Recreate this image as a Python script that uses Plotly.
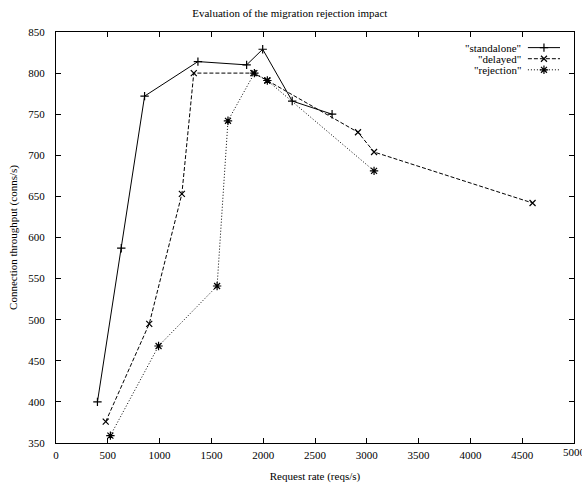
import plotly.graph_objects as go

# Measured throughput per request rate for each migration policy
standalone_rate = [400, 630, 855, 1370, 1840, 1995, 2280, 2665]
standalone_tput = [400, 587, 772, 814, 810, 829, 766, 750]

delayed_rate = [480, 900, 1215, 1330, 1905, 2040, 2915, 3070, 4600]
delayed_tput = [376, 495, 653, 800, 800, 791, 728, 704, 642]

rejection_rate = [525, 990, 1555, 1660, 1915, 2040, 3070]
rejection_tput = [359, 468, 541, 742, 800, 791, 681]

series_names = ['"standalone"', '"delayed"', '"rejection"']
x_ticks = [0, 500, 1000, 1500, 2000, 2500, 3000, 3500, 4000, 4500, 5000]
y_ticks = [350, 400, 450, 500, 550, 600, 650, 700, 750, 800, 850]

FONT = "Liberation Serif"
styles = [
    dict(dash="solid", symbol="cross-thin-open", size=6),
    dict(dash="4px,2px", symbol="x-thin-open", size=6),
    dict(dash="1px,2px", symbol="asterisk-open", size=7),
]
data = [
    (standalone_rate, standalone_tput),
    (delayed_rate, delayed_tput),
    (rejection_rate, rejection_tput),
]

fig = go.Figure()
for (xs, ys), st, name in zip(data, styles, series_names):
    fig.add_trace(go.Scatter(
        x=xs, y=ys, mode="lines+markers", name=name, showlegend=False,
        line=dict(color="black", width=1, dash=st["dash"]),
        marker=dict(symbol=st["symbol"], size=st["size"], color="black",
                    line=dict(color="black", width=1.2)),
    ))

# Key in the upper-right corner: label text followed by a line sample
key_rows = [0.962, 0.935, 0.908]
for st, name, ky in zip(styles, series_names, key_rows):
    fig.add_trace(go.Scatter(
        x=[0.911, 0.973], y=[ky, ky], mode="lines", xaxis="x2", yaxis="y2",
        showlegend=False, hoverinfo="skip",
        line=dict(color="black", width=1, dash=st["dash"]),
    ))
    fig.add_trace(go.Scatter(
        x=[0.942], y=[ky], mode="markers", xaxis="x2", yaxis="y2",
        showlegend=False, hoverinfo="skip",
        marker=dict(symbol=st["symbol"], size=st["size"], color="black",
                    line=dict(color="black", width=1.2)),
    ))
    fig.add_annotation(
        x=0.8997, y=ky, xref="x2", yref="y2", text=name, showarrow=False,
        xanchor="right", yanchor="middle", borderpad=0,
        font=dict(family=FONT, size=11, color="black"),
    )

# Last x tick label sits on the page edge, so it is placed explicitly
fig.add_annotation(
    x=x_ticks[-1], y=0, xref="x", yref="paper", text=str(x_ticks[-1]),
    showarrow=False, xanchor="center", yanchor="top", yshift=-2,
    borderpad=0, font=dict(family=FONT, size=11, color="black"),
)

axis_common = dict(
    showgrid=False, zeroline=False, showline=True, linecolor="black",
    linewidth=1, mirror="ticks", ticks="inside", ticklen=5,
    tickcolor="black", tickwidth=1, automargin=False,
    tickfont=dict(family=FONT, size=11, color="black"),
)

fig.update_layout(
    width=582, height=484,
    margin=dict(l=55.5, r=8, t=31.5, b=40.5),
    paper_bgcolor="white", plot_bgcolor="white",
    title=dict(
        text="Evaluation of the migration rejection impact",
        x=0.498, xanchor="center", y=1 - 13 / 484, yanchor="middle",
        yref="container",
        font=dict(family=FONT, size=11, color="black"),
    ),
    xaxis=dict(
        range=[0, 5000], tickvals=x_ticks[:-1], ticklabelstandoff=2,
        title=dict(text="Request rate (reqs/s)", standoff=12,
                   font=dict(family=FONT, size=11, color="black")),
        **axis_common,
    ),
    yaxis=dict(
        range=[350, 850], tickvals=y_ticks, ticklabelstandoff=8,
        title=dict(text="Connection throughput (conns/s)", standoff=8,
                   font=dict(family=FONT, size=11, color="black")),
        **axis_common,
    ),
    xaxis2=dict(overlaying="x", range=[0, 1], visible=False, fixedrange=True),
    yaxis2=dict(overlaying="y", range=[0, 1], visible=False, fixedrange=True),
)

fig.write_html("out.html")
